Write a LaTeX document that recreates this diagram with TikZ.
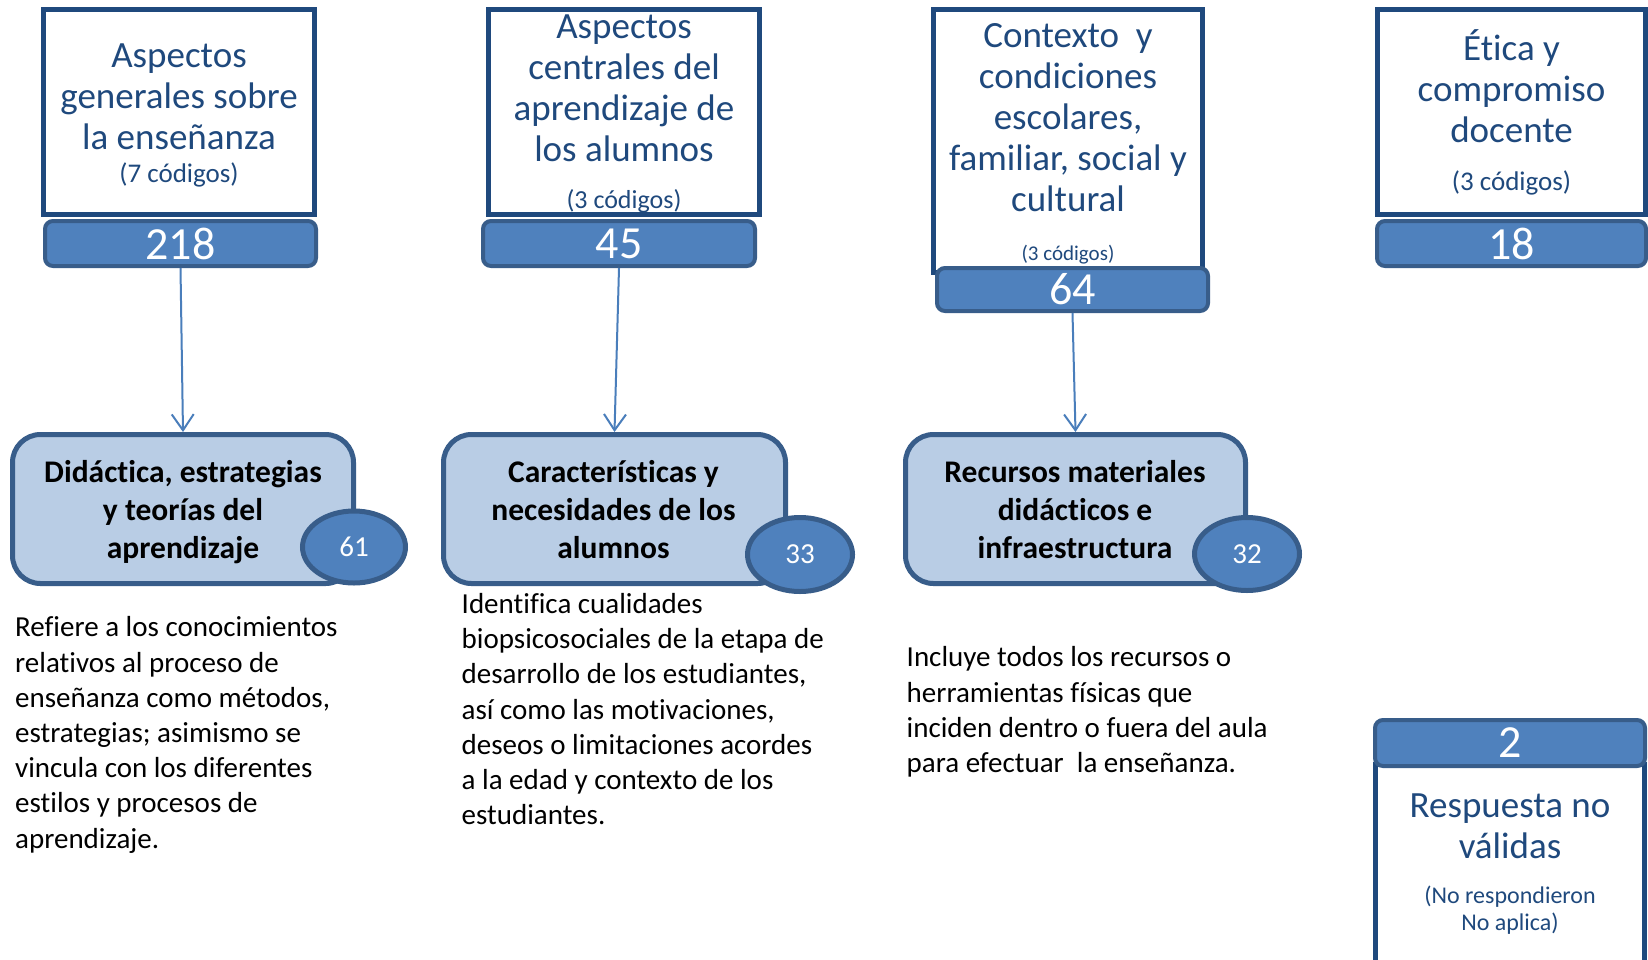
\documentclass[tikz,border=0pt]{standalone}
\usepackage{fontspec}
\setmainfont{Carlito}[Ligatures=NoCommon]
\usetikzlibrary{arrows.meta,shapes.geometric}
\definecolor{tblue}{HTML}{1F497D}
\definecolor{barfill}{HTML}{4F81BD}
\definecolor{barline}{HTML}{385D8A}
\definecolor{boxfill}{HTML}{B9CDE5}
\definecolor{arrowc}{HTML}{4A7EBB}
\newcommand\fsz[2]{\fontsize{#1}{#2}\selectfont}
\begin{document}
\begin{tikzpicture}[x=1pt,y=-1pt,
 titlebox/.style={draw=tblue, line width=5pt, fill=white, rectangle, inner sep=0pt},
 titletext/.style={text=tblue, align=center, inner sep=0pt, anchor=north, font=\fsz{37}{41}},
 codetext/.style={text=tblue, align=center, inner sep=0pt, anchor=north},
 countbar/.style={draw=barline, fill=barfill, line width=4pt, rounded corners=8pt, rectangle, inner sep=0pt, text=white, font=\fsz{46}{50}},
 catbox/.style={draw=barline, fill=boxfill, line width=5pt, rounded corners=28pt, rectangle, inner sep=0pt},
 cattext/.style={align=center, inner sep=0pt, anchor=north, font=\bfseries\fsz{31.5}{38}},
 countoval/.style={draw=barline, fill=barfill, line width=5pt, ellipse, inner sep=0pt, text=white, font=\fsz{29}{32}},
 desc/.style={align=left, inner sep=0pt, anchor=north west, font=\fsz{29}{35.2}},
 link/.style={draw=arrowc, line width=2pt, -{Straight Barb[length=16pt,width=22pt]}}
]
\useasboundingbox[fill=white] (0,0) rectangle (1648,959);

% ---- title boxes ----
\node[titlebox, minimum width=271pt, minimum height=205pt] (t1) at (179,112) {};
\node[titletext] (t1a) at (179,38.3) {\strut Aspectos\\generales sobre\\la enseñanza};
\node[codetext, font=\fsz{27}{32}] (t1b) at (179,159.6) {\strut(7 códigos)};

\node[titlebox, minimum width=271pt, minimum height=205pt] (t2) at (624,112) {};
\node[titletext] (t2a) at (624,9.3) {\strut Aspectos\\centrales del\\aprendizaje de\\los alumnos};
\node[codetext, font=\fsz{26}{30}] (t2b) at (624,187) {\strut(3 códigos)};

\node[titlebox, minimum width=269pt, minimum height=263pt] (t3) at (1068,141) {};
\node[titletext] (t3a) at (1068,18.3) {\strut Contexto\ \ y\\condiciones\\escolares,\\familiar, social y\\cultural};
\node[codetext, font=\fsz{21}{25}] (t3b) at (1068,242.5) {\strut(3 códigos)};

\node[titlebox, minimum width=268pt, minimum height=205pt] (t4) at (1511.5,112) {};
\node[titletext] (t4a) at (1511.5,29.3) {\strut Ética y\\compromiso\\docente};
\node[codetext, font=\fsz{27}{32}] (t4b) at (1511.5,167.6) {\strut(3 códigos)};

\node[titlebox, minimum width=269pt, minimum height=240pt] (t5) at (1510,884) {};
\node[titletext] (t5a) at (1510,788.3) {\strut Respuesta no\\válidas};
\node[codetext, font=\fsz{24}{27}] (t5b) at (1510,884.1) {\strut(No respondieron\\No aplica)};

% ---- count bars ----
\node[countbar, minimum width=271pt, minimum height=45pt] (b1) at (180.5,243.5) {218};
\node[countbar, minimum width=272pt, minimum height=45pt] (b2) at (619,243.5) {45};
\node[countbar, minimum width=271pt, minimum height=43pt] (b3) at (1072.5,289.5) {\raisebox{-1.5pt}{64}};
\node[countbar, minimum width=269pt, minimum height=45pt] (b4) at (1511.5,243.5) {18};
\node[countbar, minimum width=270pt, minimum height=46pt] (b5) at (1510,743) {2};

% ---- category boxes ----
\node[catbox, minimum width=341pt, minimum height=149pt] (cA) at (183,509) {};
\node[cattext] (cAt) at (183,455.4) {\strut Didáctica, estrategias\\y teorías del\\aprendizaje};
\node[countoval, minimum width=103pt, minimum height=72pt] (oA) at (354,547) {61};

\node[catbox, minimum width=342pt, minimum height=149pt] (cB) at (614.5,509) {};
\node[cattext] (cBt) at (613.5,455.4) {\strut Características y\\necesidades de los\\alumnos};
\node[countoval, minimum width=105pt, minimum height=74pt] (oB) at (800,554.5) {33};

\node[catbox, minimum width=340pt, minimum height=149pt] (cC) at (1075.5,509) {};
\node[cattext] (cCt) at (1075,455.4) {\strut Recursos materiales\\didácticos e\\infraestructura};
\node[countoval, minimum width=105pt, minimum height=73pt] (oC) at (1247,554) {32};

% ---- connectors ----
\draw[link] (b1.south) -- (cA.north);
\draw[link] (b2.south) -- (cB.north);
\draw[link] (b3.south) -- (cC.north);

% ---- descriptions ----
\node[desc] (d1) at (15,612) {\strut Refiere a los conocimientos\\relativos al proceso de\\enseñanza como métodos,\\estrategias; asimismo se\\vincula con los diferentes\\estilos y procesos de\\aprendizaje.};
\node[desc] (d2) at (461.5,588.7) {\strut Identifica cualidades\\biopsicosociales de la etapa de\\desarrollo de los estudiantes,\\así como las motivaciones,\\deseos o limitaciones acordes\\a la edad y contexto de los\\estudiantes.};
\node[desc] (d3) at (906.5,642) {\strut Incluye todos los recursos o\\herramientas físicas que\\inciden dentro o fuera del aula\\para efectuar\ \ la enseñanza.};
\end{tikzpicture}
\end{document}
